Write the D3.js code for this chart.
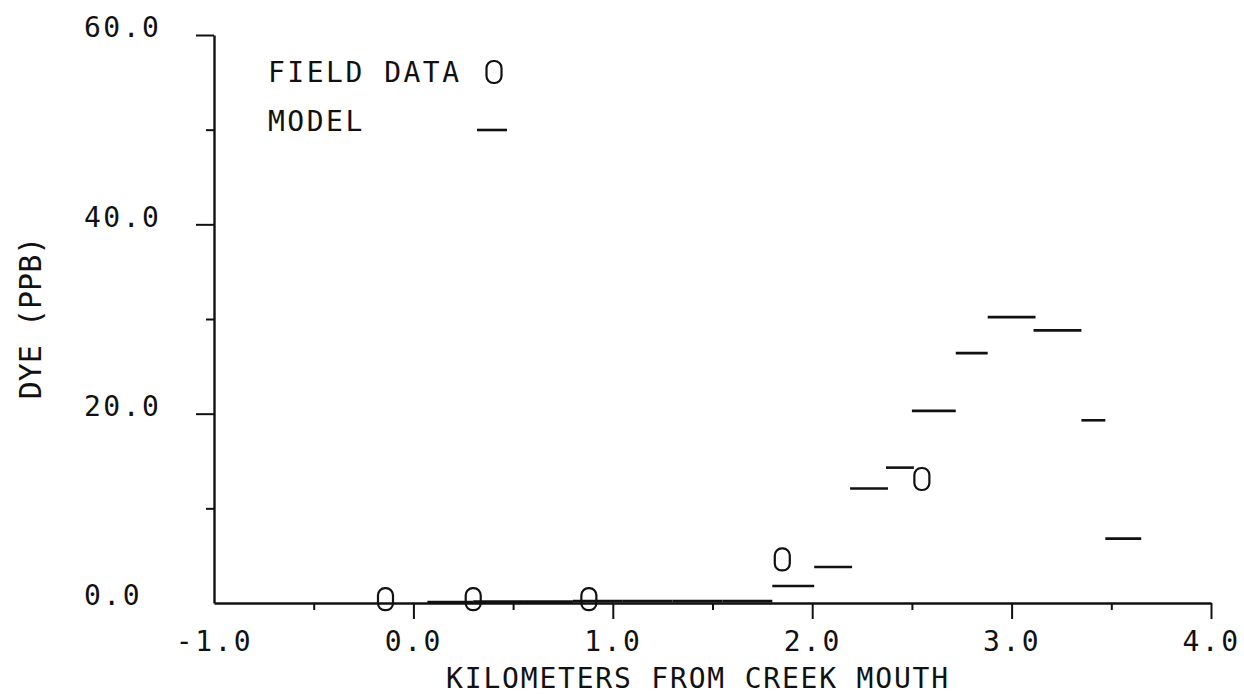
<!DOCTYPE html>
<html>
<head>
<meta charset="utf-8">
<script src="https://cdn.jsdelivr.net/npm/d3@7"></script>
<style>
  html, body { margin: 0; padding: 0; background: #fff; }
  #chart text { font-family: "DejaVu Sans Mono", monospace; fill: #111; }
</style>
</head>
<body>
<div id="chart"></div>
<script>
// field data points (km from creek mouth, dye ppb)
const fieldKm = [-0.14, 0.30, 0.88, 1.85, 2.55];
const fieldDye = [0.4, 0.4, 0.4, 4.6, 13.1];

// model output, drawn as horizontal step segments
const modelStart = [0.07, 0.30, 0.55, 0.80, 1.05, 1.30, 1.55, 1.80, 2.01, 2.19, 2.37, 2.50, 2.72, 2.88, 3.11, 3.35, 3.47];
const modelEnd = [0.30, 0.55, 0.80, 1.05, 1.30, 1.55, 1.80, 2.01, 2.20, 2.38, 2.51, 2.72, 2.88, 3.12, 3.35, 3.47, 3.65];
const modelDye = [0.1, 0.15, 0.15, 0.2, 0.2, 0.2, 0.2, 1.8, 3.8, 12.1, 14.3, 20.3, 26.4, 30.2, 28.8, 19.3, 6.8];

// ticks
const xMajor = [-1, 0, 1, 2, 3, 4];
const xMinor = [-0.5, 0.5, 1.5, 2.5, 3.5];
const xTickLabels = ["-1.0", "0.0", "1.0", "2.0", "3.0", "4.0"];
const yMajor = [0, 20, 40, 60];
const yMinor = [10, 30, 50];
const yTickLabels = ["0.0", "20.0", "40.0", "60.0"];

const width = 1244;
const height = 694;
const ink = "#111";

const x = d3.scaleLinear().domain([-1, 4]).range([214, 1211]);
const y = d3.scaleLinear().domain([0, 60]).range([603, 35]);

const svg = d3
  .select("#chart")
  .append("svg")
  .attr("width", width)
  .attr("height", height);

svg.append("rect").attr("width", width).attr("height", height).attr("fill", "#fff");

const fontSize = 28;
const spacing = 2.5;

// x axis
const xAxisG = svg
  .append("g")
  .attr("transform", "translate(0," + y(0) + ")")
  .call(
    d3.axisBottom(x)
      .tickValues(xMajor.concat(xMinor))
      .tickSizeOuter(0)
      .tickFormat(d => {
        const i = xMajor.indexOf(d);
        return i >= 0 ? xTickLabels[i] : "";
      })
  );
xAxisG.select(".domain").attr("stroke", ink).attr("stroke-width", 2.4);
xAxisG.selectAll(".tick line")
  .attr("stroke", ink)
  .attr("stroke-width", 2)
  .attr("y2", d => (d === -1 ? 0 : xMajor.includes(d) ? 16 : 7));
xAxisG.selectAll(".tick text")
  .attr("y", 38)
  .attr("dy", "0.35em")
  .style("font-size", fontSize + "px")
  .style("letter-spacing", spacing + "px");

// y axis
const yAxisG = svg
  .append("g")
  .attr("transform", "translate(" + x(-1) + ",0)")
  .call(
    d3.axisLeft(y)
      .tickValues(yMajor.concat(yMinor))
      .tickSizeOuter(0)
      .tickFormat(d => {
        const i = yMajor.indexOf(d);
        return i >= 0 ? yTickLabels[i] : "";
      })
  );
yAxisG.select(".domain").attr("stroke", ink).attr("stroke-width", 2.4);
yAxisG.selectAll(".tick line")
  .attr("stroke", ink)
  .attr("stroke-width", 2)
  .attr("x2", d => (d === 0 ? 0 : yMajor.includes(d) ? -18 : -8));
yAxisG.selectAll(".tick text")
  .attr("x", 84 - x(-1))
  .attr("y", -8)
  .attr("dy", "0.35em")
  .attr("text-anchor", "start")
  .style("font-size", fontSize + "px")
  .style("letter-spacing", spacing + "px");

// axis titles
svg
  .append("text")
  .attr("x", 698)
  .attr("y", 678)
  .attr("dy", "0.35em")
  .attr("text-anchor", "middle")
  .style("font-size", fontSize + "px")
  .style("letter-spacing", "1.8px")
  .text("KILOMETERS FROM CREEK MOUTH");

svg
  .append("text")
  .attr("transform", "translate(30,318) rotate(-90)")
  .attr("dy", "0.35em")
  .attr("text-anchor", "middle")
  .style("font-size", "30px")
  .text("DYE (PPB)");

// model segments
const modelSegs = modelStart.map((s, i) => ({ s: s, e: modelEnd[i], v: modelDye[i] }));
svg
  .append("g")
  .selectAll("line")
  .data(modelSegs)
  .enter()
  .append("line")
  .attr("x1", d => x(d.s))
  .attr("x2", d => x(d.e))
  .attr("y1", d => y(d.v))
  .attr("y2", d => y(d.v))
  .attr("stroke", ink)
  .attr("stroke-width", 2.6);

// field data markers (plotter "0" symbol)
const mw = 15;
const mh = 22;
svg
  .append("g")
  .selectAll("rect")
  .data(fieldKm.map((k, i) => ({ k: k, v: fieldDye[i] })))
  .enter()
  .append("rect")
  .attr("x", d => x(d.k) - mw / 2)
  .attr("y", d => y(d.v) - mh / 2)
  .attr("width", mw)
  .attr("height", mh)
  .attr("rx", 7)
  .attr("ry", 7)
  .attr("fill", "none")
  .attr("stroke", ink)
  .attr("stroke-width", 2.2);

// legend
const legend = svg.append("g");
legend
  .append("text")
  .attr("x", 268)
  .attr("y", 72)
  .attr("dy", "0.35em")
  .style("font-size", fontSize + "px")
  .style("letter-spacing", spacing + "px")
  .text("FIELD DATA");
legend
  .append("rect")
  .attr("x", 494 - mw / 2)
  .attr("y", 72 - mh / 2)
  .attr("width", mw)
  .attr("height", mh)
  .attr("rx", 7)
  .attr("ry", 7)
  .attr("fill", "none")
  .attr("stroke", ink)
  .attr("stroke-width", 2.2);
legend
  .append("text")
  .attr("x", 268)
  .attr("y", 121)
  .attr("dy", "0.35em")
  .style("font-size", fontSize + "px")
  .style("letter-spacing", spacing + "px")
  .text("MODEL");
legend
  .append("line")
  .attr("x1", 477)
  .attr("x2", 507)
  .attr("y1", 130)
  .attr("y2", 130)
  .attr("stroke", ink)
  .attr("stroke-width", 2.6);
</script>
</body>
</html>
